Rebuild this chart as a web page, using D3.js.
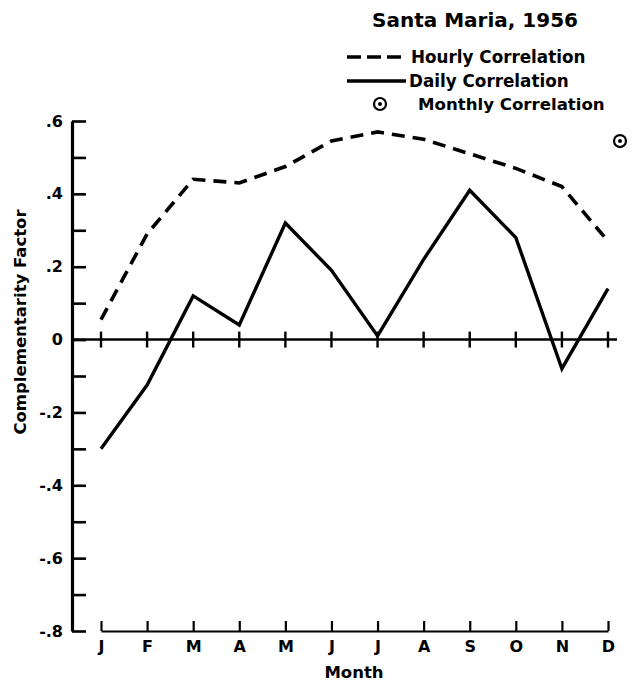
<!DOCTYPE html>
<html>
<head>
<meta charset="utf-8">
<script src="https://cdnjs.cloudflare.com/ajax/libs/d3/7.8.5/d3.min.js"></script>
<style>
  body { margin: 0; background: #fff; }
  text { font-family: "DejaVu Sans", sans-serif; font-weight: bold; fill: #000; }
</style>
</head>
<body>
<div id="wrapper"></div>
<script>
// month labels along the bottom
var months = ["J", "F", "M", "A", "M", "J", "J", "A", "S", "O", "N", "D"];
// hourly correlation (dashed)
var hourly = [0.055, 0.29, 0.44, 0.43, 0.475, 0.545, 0.57, 0.55, 0.51, 0.47, 0.42, 0.27];
// daily correlation (solid)
var daily = [-0.30, -0.125, 0.12, 0.04, 0.32, 0.19, 0.01, 0.22, 0.41, 0.28, -0.08, 0.14];
// single monthly correlation value
var monthlyValue = [0.545];
// y axis ticks
var yTicks = [-0.8, -0.7, -0.6, -0.5, -0.4, -0.3, -0.2, -0.1, 0, 0.1, 0.2, 0.3, 0.4, 0.5, 0.6];
var yTickLabels = {"-0.8": "-.8", "-0.6": "-.6", "-0.4": "-.4", "-0.2": "-.2", "0": "0", "0.2": ".2", "0.4": ".4", "0.6": ".6"};

var width = 637, height = 685;

var svg = d3.select("#wrapper").append("svg")
    .attr("width", width)
    .attr("height", height);

// set the ranges
var idx = d3.range(months.length);
var x = d3.scalePoint().domain(idx).range([101, 608]);
var y = d3.scaleLinear().domain([-0.8, 0.6]).range([631, 121]);

// y axis, ticks pointing into the plot
var yAxis = svg.append("g")
    .attr("transform", "translate(72,0)")
    .call(d3.axisLeft(y)
      .tickValues(yTicks)
      .tickSizeInner(-14)
      .tickSizeOuter(0)
      .tickPadding(9)
      .tickFormat(function(d) { return yTickLabels[String(Math.round(d * 10) / 10)] || ""; }));
yAxis.select(".domain").attr("stroke-width", 3.2);
yAxis.selectAll(".tick line").attr("stroke-width", 2.6);
yAxis.selectAll(".tick text").style("font-size", "16px").style("font-family", "DejaVu Sans").style("font-weight", "bold");

// x axis at the bottom, ticks pointing up
var xAxis = svg.append("g")
    .attr("transform", "translate(0," + y(-0.8) + ")")
    .call(d3.axisBottom(x)
      .tickSizeInner(-10)
      .tickSizeOuter(0)
      .tickPadding(10)
      .tickFormat(function(i) { return months[i]; }));
xAxis.select(".domain").attr("stroke-width", 2.2);
xAxis.selectAll(".tick line").attr("stroke-width", 2.2);
xAxis.selectAll(".tick text").style("font-size", "16px").style("font-family", "DejaVu Sans").style("font-weight", "bold");

// zero line with crossing ticks
svg.append("line")
    .attr("x1", 72).attr("x2", 617)
    .attr("y1", y(0)).attr("y2", y(0))
    .attr("stroke", "#000").attr("stroke-width", 2.6);
svg.selectAll(".zt")
    .data(idx)
  .enter().append("line")
    .attr("class", "zt")
    .attr("x1", function(d) { return x(d); })
    .attr("x2", function(d) { return x(d); })
    .attr("y1", y(0) - 8).attr("y2", y(0) + 8)
    .attr("stroke", "#000").attr("stroke-width", 2.4);

var line = d3.line()
    .x(function(d, i) { return x(i); })
    .y(function(d) { return y(d); });

// hourly
svg.append("path")
    .datum(hourly)
    .attr("d", line)
    .attr("fill", "none")
    .attr("stroke", "#000")
    .attr("stroke-width", 3.6)
    .attr("stroke-dasharray", "13,8");

// daily
svg.append("path")
    .datum(daily)
    .attr("d", line)
    .attr("fill", "none")
    .attr("stroke", "#000")
    .attr("stroke-width", 3.4)
    .attr("stroke-linejoin", "miter");

// monthly point, just right of December
var mp = svg.selectAll(".mp")
    .data(monthlyValue)
  .enter().append("g")
    .attr("transform", function(d) { return "translate(" + (x(11) + 12) + "," + y(d) + ")"; });
mp.append("circle").attr("r", 6).attr("fill", "none").attr("stroke", "#000").attr("stroke-width", 2.2);
mp.append("circle").attr("r", 2).attr("fill", "#000");

// title
svg.append("text")
    .attr("x", 475).attr("y", 27)
    .attr("text-anchor", "middle")
    .style("font-size", "20px")
    .text("Santa Maria, 1956");

// legend
var lg = svg.append("g");
lg.append("line").attr("x1", 347).attr("x2", 406).attr("y1", 57).attr("y2", 57)
    .attr("stroke", "#000").attr("stroke-width", 3.6).attr("stroke-dasharray", "14,6");
lg.append("text").attr("x", 411).attr("y", 63).style("font-size", "16.8px").text("Hourly Correlation");
lg.append("line").attr("x1", 347).attr("x2", 406).attr("y1", 81).attr("y2", 81)
    .attr("stroke", "#000").attr("stroke-width", 3.4);
lg.append("text").attr("x", 409).attr("y", 87).style("font-size", "16.8px").text("Daily Correlation");
lg.append("circle").attr("cx", 380).attr("cy", 104).attr("r", 6).attr("fill", "none").attr("stroke", "#000").attr("stroke-width", 2.2);
lg.append("circle").attr("cx", 380).attr("cy", 104).attr("r", 2).attr("fill", "#000");
lg.append("text").attr("x", 418).attr("y", 110).style("font-size", "16.6px").text("Monthly Correlation");

// axis titles
svg.append("text")
    .attr("transform", "translate(26,322) rotate(-90)")
    .attr("text-anchor", "middle")
    .style("font-size", "16.5px")
    .text("Complementarity Factor");
svg.append("text")
    .attr("x", 354).attr("y", 678)
    .attr("text-anchor", "middle")
    .style("font-size", "16.5px")
    .text("Month");
</script>
</body>
</html>
